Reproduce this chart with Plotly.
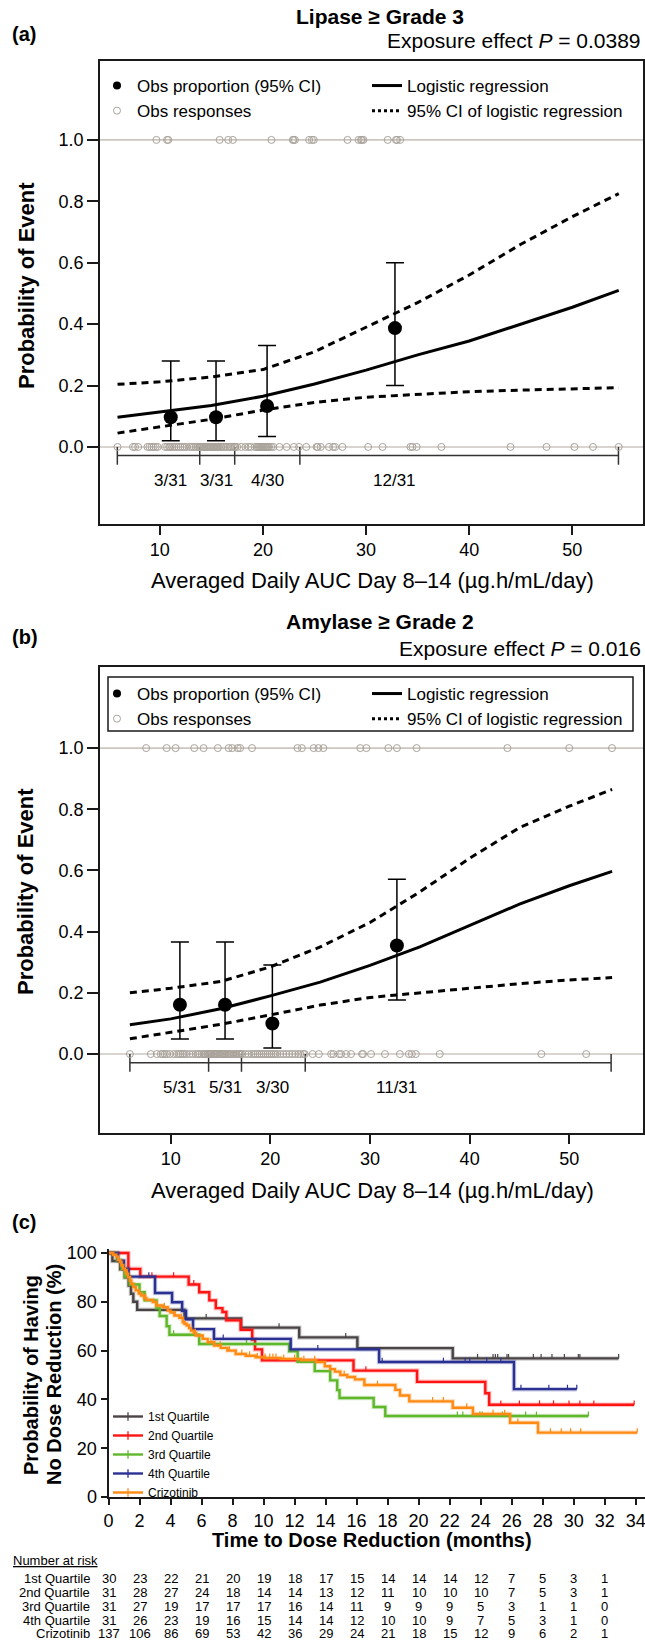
import numpy as np
import plotly.graph_objects as go

W, H = 645, 1642
FONT = "Liberation Sans, Arial, sans-serif"
NARROW = "Liberation Sans Narrow, Arial Narrow, Liberation Sans, sans-serif"

# ---------------- Panel (a): Lipase >= Grade 3 ----------------
a_resp1_x = [9.67, 10.7, 10.82, 15.8, 16.63, 17.08, 20.82, 22.9, 22.95, 23.1,
             24.48, 24.75, 24.93, 28.2, 29.28, 29.51, 29.6, 29.74, 32.1, 32.9, 33.0, 33.3]
a_resp0_x = [5.9, 7.4, 7.6, 7.9, 8.8, 9.0, 9.2, 9.4, 9.6, 9.8, 10.5, 10.7, 10.9, 11.0,
             11.2, 11.4, 11.6, 11.8, 12.0, 12.2, 12.4, 12.6, 12.9, 13.1, 13.3, 13.5, 13.7, 13.85,
             13.9, 14.0, 14.1, 14.25, 14.3, 14.45, 14.5, 14.6, 14.75, 14.8, 14.9, 15.0, 15.15,
             15.2, 15.3, 15.45, 15.5, 15.6, 15.7, 15.9, 16.0, 16.2, 16.4, 16.6, 16.8, 16.9, 17.1, 17.25,
             17.3, 17.5, 17.9, 18.3, 18.6, 18.8, 19.2, 19.4, 19.5, 19.6, 19.7, 19.8, 19.9, 20.0,
             20.1, 20.2, 20.3, 20.4, 20.5, 20.6, 20.8, 21.0, 21.6, 22.3, 23.0, 23.5,
             24.2, 25.2, 25.3, 25.6, 26.4, 26.8, 27.0, 27.7, 30.2, 31.6, 34.3, 34.5, 34.9, 37.3,
             44.0, 47.5, 50.2, 52.0, 54.5]
a_bin_x = [11.06, 15.45, 20.4, 32.8]
a_bin_p = [3 / 31, 3 / 31, 4 / 30, 12 / 31]
a_bin_lo = [0.02, 0.02, 0.034, 0.20]
a_bin_hi = [0.28, 0.28, 0.33, 0.60]
a_bin_lab = ["3/31", "3/31", "4/30", "12/31"]
a_edges = [5.88, 13.87, 17.26, 23.58, 54.47]
a_fit_x = [5.9, 10, 15, 20, 25, 30, 35, 40, 45, 50, 54.5]
a_fit = [0.097, 0.115, 0.135, 0.165, 0.205, 0.25, 0.30, 0.345, 0.40, 0.455, 0.51]
a_fit_hi = [0.204, 0.212, 0.228, 0.252, 0.31, 0.39, 0.47, 0.56, 0.66, 0.75, 0.825]
a_fit_lo = [0.045, 0.065, 0.09, 0.12, 0.145, 0.162, 0.172, 0.18, 0.185, 0.19, 0.193]
a_title = "Lipase ≥ Grade 3"
a_p = "0.0389"

# ---------------- Panel (b): Amylase >= Grade 2 ----------------
b_resp1_x = [7.53, 9.59, 10.49, 12.36, 13.3, 14.73, 15.82, 16.17, 16.72, 16.97,
             18.16, 22.72, 23.16, 24.35, 24.82, 25.32, 29.02, 29.64, 31.84, 32.7, 34.68,
             43.79, 50.0, 54.29]
b_resp0_x = [5.9, 8.0, 8.6, 9.0, 9.2, 9.4, 9.6, 9.9, 10.3, 10.6, 10.8, 11.0, 11.2, 11.4,
             11.6, 11.9, 12.2, 12.5, 12.7, 12.9, 13.1, 13.3, 13.4, 13.5, 13.65, 13.75,
             13.85, 13.95, 14.05, 14.15, 14.3, 14.4, 14.5, 14.6, 14.7, 14.85, 14.95, 15.05,
             15.15, 15.3, 15.4, 15.55, 15.65, 15.8, 15.95, 16.1, 16.3, 16.5, 16.6, 16.8, 16.95, 17.05,
             17.2, 17.5, 17.8, 18.1, 18.3, 18.5, 18.7, 18.9, 19.1, 19.3, 19.5, 19.7, 19.9, 20.1,
             20.3, 20.5, 20.7, 21.0, 21.3, 21.6, 21.9, 22.2, 22.5, 22.8, 23.0, 23.3, 23.45,
             24.24, 24.87, 26.1, 26.33, 26.9, 27.1, 27.6, 28.1, 29.2, 29.3, 30.1, 31.5, 33.0,
             33.9, 34.2, 34.6, 37.0, 47.2, 51.7]
b_bin_x = [10.92, 15.45, 20.2, 32.7]
b_bin_p = [5 / 31, 5 / 31, 3 / 30, 11 / 31]
b_bin_lo = [0.049, 0.049, 0.02, 0.177]
b_bin_hi = [0.366, 0.366, 0.291, 0.571]
b_bin_lab = ["5/31", "5/31", "3/30", "11/31"]
b_edges = [5.9, 13.8, 17.1, 23.5, 54.2]
b_fit_x = [5.9, 10, 15, 20, 25, 30, 35, 40, 45, 50, 54.3]
b_fit = [0.096, 0.115, 0.148, 0.19, 0.235, 0.29, 0.35, 0.42, 0.49, 0.55, 0.597]
b_fit_hi = [0.2, 0.215, 0.237, 0.285, 0.35, 0.43, 0.53, 0.64, 0.74, 0.81, 0.865]
b_fit_lo = [0.05, 0.072, 0.097, 0.128, 0.16, 0.185, 0.2, 0.215, 0.23, 0.242, 0.25]
b_title = "Amylase ≥ Grade 2"
b_p = "0.016"

# ---------------- Panel (c): Kaplan-Meier ----------------
km_names = ["1st Quartile", "2nd Quartile", "3rd Quartile", "4th Quartile", "Crizotinib"]
km_colors = ["#4a4446", "#ff1414", "#5fb82c", "#2b3192", "#ff8a14"]

q1_t = [0, 0.25, 0.75, 1.05, 1.3, 1.45, 1.6, 1.85, 4.9, 8.55, 12.3, 16.05, 22.2]
q1_s = [100, 96.7, 93.3, 90.0, 86.7, 83.3, 80.0, 76.7, 73.2, 69.4, 65.4, 61.0, 56.8]
q1_end = 32.9
q1_cens = [6.3, 11.0, 15.3, 23.8, 24.8, 24.95, 25.1, 25.7, 25.8, 27.4, 27.9, 28.6, 29.4, 30.3, 30.4]

q2_t = [0, 1.28, 2.05, 5.17, 5.85, 6.5, 6.92, 7.35, 7.6, 8.53, 9.27, 9.45, 9.9, 15.8, 19.9, 24.3, 24.55]
q2_s = [100, 93.5, 90.3, 87.1, 83.9, 80.6, 77.4, 75.8, 72.4, 68.5, 64.5, 60.5, 56.0, 51.8, 47.2, 42.5, 37.8]
q2_end = 33.9
q2_cens = [2.8, 4.2, 5.5, 16.6, 25.3, 26.5, 27.8, 28.7, 29.7, 30.4, 31.3]

q3_t = [0, 0.55, 0.85, 1.05, 1.37, 2.0, 2.33, 3.1, 3.3, 3.75, 3.93, 5.85, 11.65, 12.2, 13.3,
        14.3, 14.75, 14.9, 17.1, 17.85]
q3_s = [100, 96.8, 93.5, 90.3, 87.1, 83.9, 80.6, 77.4, 74.2, 70.0, 66.5, 62.7, 59.7, 55.4, 51.6,
        47.8, 43.8, 40.6, 36.9, 33.2]
q3_end = 30.95
q3_cens = [4.2, 8.9, 22.5, 22.85, 23.95, 24.1, 25.4, 26.9, 27.6]

q4_t = [0, 0.62, 1.0, 1.3, 3.0, 4.1, 4.75, 5.0, 5.45, 6.8, 11.75, 17.45, 26.15]
q4_s = [100, 96.8, 93.5, 90.3, 83.6, 79.8, 76.3, 72.8, 68.8, 64.8, 60.5, 55.3, 44.2]
q4_end = 30.2
q4_cens = [2.6, 7.4, 13.5, 17.65, 21.6, 23.0, 23.3, 24.4, 25.3, 26.6, 28.4, 29.6]

cz_t = [0, 0.3, 0.5, 0.62, 0.75, 0.83, 0.95, 1.05, 1.15, 1.26, 1.38, 1.47, 1.6, 1.75, 1.95, 2.1,
        2.3, 2.44, 2.86, 3.08, 3.5, 3.82, 4.0, 4.25, 4.57, 4.79, 4.9, 5.04, 5.2, 5.32, 5.5, 5.64,
        6.07, 6.4, 6.82, 7.24, 7.67, 8.2, 8.85, 9.49, 10.1, 11.1, 12.4, 13.4, 13.95, 14.3, 14.6,
        14.95, 15.4, 15.9, 16.5, 18.5, 18.8, 19.4, 22.2, 23.5, 25.9, 27.7]
cz_s = [100, 99.3, 98.5, 97.1, 96.4, 95.0, 93.6, 92.9, 91.5, 90.1, 88.7, 87.4, 86.0, 84.7, 83.4,
        82.6, 81.5, 80.8, 79.9, 78.5, 77.8, 76.4, 75.6, 74.4, 73.4, 71.6, 71.0, 70.3, 69.2, 68.2,
        67.2, 66.2, 64.8, 63.4, 62.1, 61.1, 60.0, 58.6, 57.9, 57.3, 57.0, 56.6, 56.1, 55.3, 53.6,
        52.4, 51.4, 50.0, 49.2, 48.2, 45.9, 43.9, 41.6, 39.2, 36.6, 34.0, 30.4, 26.4]
cz_end = 34.1
cz_cens = [1.2, 1.8, 2.4, 3.1, 3.6, 4.3, 4.7, 5.2, 5.6, 6.1, 6.6, 7.2, 7.8, 8.2, 8.6, 9.1, 9.6,
           10.1, 10.4, 10.6, 10.8, 11.3, 12.0, 12.6, 13.3, 14.3, 15.2, 17.35, 20.9, 21.6, 23.1,
           24.8, 25.55, 26.4, 28.5, 29.2, 29.8, 30.45]

risk_times = [0, 2, 4, 6, 8, 10, 12, 14, 16, 18, 20, 22, 24, 26, 28, 30, 32]
risk_q1 = [30, 23, 22, 21, 20, 19, 18, 17, 15, 14, 14, 14, 12, 7, 5, 3, 1]
risk_q2 = [31, 28, 27, 24, 18, 14, 14, 13, 12, 11, 10, 10, 10, 7, 5, 3, 1]
risk_q3 = [31, 27, 19, 17, 17, 17, 16, 14, 11, 9, 9, 9, 5, 3, 1, 1, 0]
risk_q4 = [31, 26, 23, 19, 16, 15, 14, 14, 12, 10, 10, 9, 7, 5, 3, 1, 0]
risk_cz = [137, 106, 86, 69, 53, 42, 36, 29, 24, 21, 18, 15, 12, 9, 6, 2, 1]


# ---------------- helpers ----------------
def px(x):
    return x / W


def py(y):
    return 1 - y / H


def note(x, y, text, size=20, family=FONT, xanchor="center", yanchor="middle", xref="paper",
         yref="paper", angle=0):
    return dict(x=x, y=y, xref=xref, yref=yref, text=text, showarrow=False, xanchor=xanchor,
                yanchor=yanchor, textangle=angle, font=dict(size=size, family=family, color="black"))


GREY_LINE = "#cdc6bf"
RESP_COL = "#aaa39b"

fig = go.Figure()
annotations = []
shapes = []


def logistic_panel(n, box_top, box_bot, txt_y, resp1, resp0, bx, bp, blo, bhi, blab, edges,
                   fx, ff, flo, fhi, title, pval, tag, legname):
    xa = "x" if n == 1 else "x%d" % n
    ya = "y" if n == 1 else "y%d" % n
    for yv in (0, 1):
        shapes.append(dict(type="line", xref=xa + " domain", yref=ya, x0=0, x1=1, y0=yv, y1=yv,
                           line=dict(color=GREY_LINE, width=1.6), layer="below"))
    bk_x = [edges[0], edges[-1], None]
    bk_y = [-0.028, -0.028, None]
    for e in edges:
        bk_x += [e, e, None]
        bk_y += [0.0, -0.058, None]
    fig.add_trace(go.Scatter(x=bk_x, y=bk_y, mode="lines", line=dict(color="#333333", width=1.5),
                             xaxis=xa, yaxis=ya, showlegend=False, hoverinfo="skip"))
    for xs, yv in ((resp1, 1), (resp0, 0)):
        fig.add_trace(go.Scatter(x=xs, y=[yv] * len(xs), mode="markers",
                                 marker=dict(symbol="circle-open", size=7, color=RESP_COL,
                                             line=dict(width=1)),
                                 xaxis=xa, yaxis=ya, showlegend=False))
    for ys in (fhi, flo):
        fig.add_trace(go.Scatter(x=fx, y=ys, mode="lines",
                                 line=dict(color="black", width=3, dash="7px,5px"),
                                 xaxis=xa, yaxis=ya, showlegend=False))
    fig.add_trace(go.Scatter(x=fx, y=ff, mode="lines", line=dict(color="black", width=3),
                             xaxis=xa, yaxis=ya, showlegend=False))
    fig.add_trace(go.Scatter(x=bx, y=bp, mode="markers",
                             marker=dict(size=14, color="black"),
                             error_y=dict(type="data", symmetric=False,
                                          array=[h - p for h, p in zip(bhi, bp)],
                                          arrayminus=[p - l for l, p in zip(blo, bp)],
                                          color="black", thickness=1.5, width=9),
                             xaxis=xa, yaxis=ya, showlegend=False))
    for x, lab in zip(bx, blab):
        annotations.append(note(x, -0.108, lab, size=17, xref=xa, yref=ya))
    # legend-only traces
    fig.add_trace(go.Scatter(x=[None], y=[None], mode="markers", name="Obs proportion (95% CI)",
                             marker=dict(size=8, color="black"), xaxis=xa, yaxis=ya, legend=legname))
    fig.add_trace(go.Scatter(x=[None], y=[None], mode="lines", name="Logistic regression",
                             line=dict(color="black", width=3), xaxis=xa, yaxis=ya, legend=legname))
    fig.add_trace(go.Scatter(x=[None], y=[None], mode="markers", name="Obs responses",
                             marker=dict(symbol="circle-open", size=7, color=RESP_COL, line=dict(width=1)),
                             xaxis=xa, yaxis=ya, legend=legname))
    fig.add_trace(go.Scatter(x=[None], y=[None], mode="lines", name="95% CI of logistic regression",
                             line=dict(color="black", width=3, dash="3px,3px"), xaxis=xa, yaxis=ya,
                             legend=legname))
    ty, gy, ey = txt_y
    annotations.append(note(px(380), py(ty), "<b>%s</b>" % title, size=21))
    annotations.append(note(px(10), py(gy), "<b>%s</b>" % tag, xanchor="left"))
    annotations.append(note(px(643), py(ey), "Exposure effect <i>P</i> = %s" % pval,
                            size=21, xanchor="right"))
    annotations.append(note(px(26), py(box_top + 225), "<b>Probability of Event</b>",
                            size=22, angle=-90))
    annotations.append(note(px(372), py(box_bot + 57), "Averaged Daily AUC Day 8–14 (µg.h/mL/day)",
                            size=22))


A_TOP, A_BOT = 61, 524
B_TOP, B_BOT = 667, 1133
logistic_panel(1, A_TOP, A_BOT, (16, 34, 40), a_resp1_x, a_resp0_x, a_bin_x, a_bin_p, a_bin_lo,
               a_bin_hi, a_bin_lab, a_edges, a_fit_x, a_fit, a_fit_lo, a_fit_hi, a_title, a_p,
               "(a)", "legend")
logistic_panel(2, B_TOP, B_BOT, (621, 637, 648), b_resp1_x, b_resp0_x, b_bin_x, b_bin_p, b_bin_lo,
               b_bin_hi, b_bin_lab, b_edges, b_fit_x, b_fit, b_fit_lo, b_fit_hi, b_title, b_p,
               "(b)", "legend2")
# frame around legend of panel (b)
shapes.append(dict(type="rect", xref="paper", yref="paper", x0=px(108), x1=px(633), y0=py(731),
                   y1=py(677), line=dict(color="#1a1a1a", width=1.5)))

# ---------------- KM panel ----------------
groups = [(q1_t, q1_s, q1_end, q1_cens), (q2_t, q2_s, q2_end, q2_cens), (q3_t, q3_s, q3_end, q3_cens),
          (q4_t, q4_s, q4_end, q4_cens), (cz_t, cz_s, cz_end, cz_cens)]
TICK_H = 1.8
for (t, s, end, cens), name, col in zip(groups, km_names, km_colors):
    xs = list(t) + [end]
    ys = list(s) + [s[-1]]
    fig.add_trace(go.Scatter(x=xs, y=ys, mode="lines", line=dict(color=col, width=4.5, shape="hv"),
                             opacity=0.25, xaxis="x3", yaxis="y3", showlegend=False, hoverinfo="skip"))
    fig.add_trace(go.Scatter(x=xs, y=ys, mode="lines", line=dict(color=col, width=2.4, shape="hv"),
                             xaxis="x3", yaxis="y3", showlegend=False))
    tarr = np.array(t)
    cx, cy = [], []
    for c in list(cens) + [end]:
        v = s[int(np.searchsorted(tarr, c, side="right")) - 1]
        cx += [c, c, None]
        cy += [v, v + TICK_H, None]
    fig.add_trace(go.Scatter(x=cx, y=cy, mode="lines", line=dict(color=col, width=1.2),
                             xaxis="x3", yaxis="y3", showlegend=False, hoverinfo="skip"))
    fig.add_trace(go.Scatter(x=[None], y=[None], mode="lines+markers", name=name,
                             line=dict(color=col, width=2.4),
                             marker=dict(symbol="line-ns-open", size=6, color=col,
                                         line=dict(width=1.3, color=col)),
                             xaxis="x3", yaxis="y3", legend="legend3"))

KM_TOP, KM_BOT = 1253, 1497
annotations.append(note(px(10), py(1222), "<b>(c)</b>", xanchor="left"))
annotations.append(note(px(31), py((KM_TOP + KM_BOT) / 2), "<b>Probability of Having</b>", angle=-90))
annotations.append(note(px(54), py((KM_TOP + KM_BOT) / 2), "<b>No Dose Reduction (%)</b>", angle=-90))
annotations.append(note(px(372), py(1540), "<b>Time to Dose Reduction (months)</b>"))
annotations.append(note(px(10.5), py(1560), "<u>Number at risk</u>", size=13, family=NARROW,
                        xanchor="left"))
row_y = [1578, 1592, 1606, 1620, 1633]
for name, vals, yy in zip(km_names, [risk_q1, risk_q2, risk_q3, risk_q4, risk_cz], row_y):
    annotations.append(note(px(92), py(yy), name, size=13, family=NARROW, xanchor="right"))
    for tt, v in zip(risk_times, vals):
        annotations.append(note(tt, py(yy), str(v), size=13, family=NARROW, xref="x3"))

# ---------------- axes ----------------
box_axis = dict(showline=True, mirror=True, linecolor="#1a1a1a", linewidth=1.5, showgrid=False,
                zeroline=False, ticks="outside", tickcolor="#1a1a1a", tickwidth=1.5,
                tickfont=dict(size=18, family=FONT, color="black"))
yt = [0, 0.2, 0.4, 0.6, 0.8, 1.0]
ytt = ["0.0", "0.2", "0.4", "0.6", "0.8", "1.0"]
km_px_per = (KM_BOT - KM_TOP) / 100.0
km_ytop = 101.5

fig.update_layout(
    width=W, height=H, margin=dict(l=0, r=0, t=0, b=0, autoexpand=False),
    paper_bgcolor="white", plot_bgcolor="white",
    font=dict(family=FONT, color="black"),
    xaxis=dict(domain=[px(100), px(643)], range=[4.2, 56.85], tickvals=[10, 20, 30, 40, 50],
               ticklen=9, anchor="y", **box_axis),
    yaxis=dict(domain=[py(A_BOT), py(A_TOP)], range=[-0.251, 1.257], tickvals=yt, ticktext=ytt,
               ticklen=11, anchor="x", **box_axis),
    xaxis2=dict(domain=[px(100), px(643)], range=[2.9, 57.4], tickvals=[10, 20, 30, 40, 50],
                ticklen=9, anchor="y2", **box_axis),
    yaxis2=dict(domain=[py(B_BOT), py(B_TOP)], range=[-0.258, 1.265], tickvals=yt, ticktext=ytt,
                ticklen=11, anchor="x2", **box_axis),
    xaxis3=dict(domain=[px(108.5), 1.0], range=[0, 34.6], tickvals=list(range(0, 35, 2)),
                showline=True, linecolor="#1a1a1a", linewidth=2, showgrid=False, zeroline=False,
                ticks="outside", ticklen=6, tickwidth=2, tickcolor="#1a1a1a", anchor="y3",
                ticklabeloverflow="allow",
                tickfont=dict(size=18, family=NARROW, color="black")),
    yaxis3=dict(domain=[py(KM_BOT), py(KM_TOP - (km_ytop - 100) * km_px_per)], range=[0, km_ytop],
                tickvals=[0, 20, 40, 60, 80, 100],
                showline=True, linecolor="#1a1a1a", linewidth=2, showgrid=False, zeroline=False,
                ticks="outside", ticklen=6, tickwidth=2, tickcolor="#1a1a1a", anchor="x3",
                tickfont=dict(size=18, family=NARROW, color="black")),
    legend=dict(x=px(97), y=py(A_TOP + 7), xanchor="left", yanchor="top", orientation="h",
                entrywidth=225, entrywidthmode="pixels", font=dict(size=17, family=FONT),
                bgcolor="rgba(0,0,0,0)", traceorder="normal", itemwidth=30),
    legend2=dict(x=px(97), y=py(676), xanchor="left", yanchor="top", orientation="h",
                 entrywidth=225, entrywidthmode="pixels", font=dict(size=17, family=FONT),
                 bgcolor="rgba(0,0,0,0)", traceorder="normal", itemwidth=30),
    legend3=dict(x=px(108), y=py(1402), xanchor="left", yanchor="top", orientation="v",
                 font=dict(size=12, family=NARROW), bgcolor="rgba(0,0,0,0)", tracegroupgap=0,
                 itemwidth=30),
    annotations=annotations,
    shapes=shapes,
)

fig.write_html("out.html", config={"displayModeBar": False},
               post_script="document.body.style.margin='0';")
